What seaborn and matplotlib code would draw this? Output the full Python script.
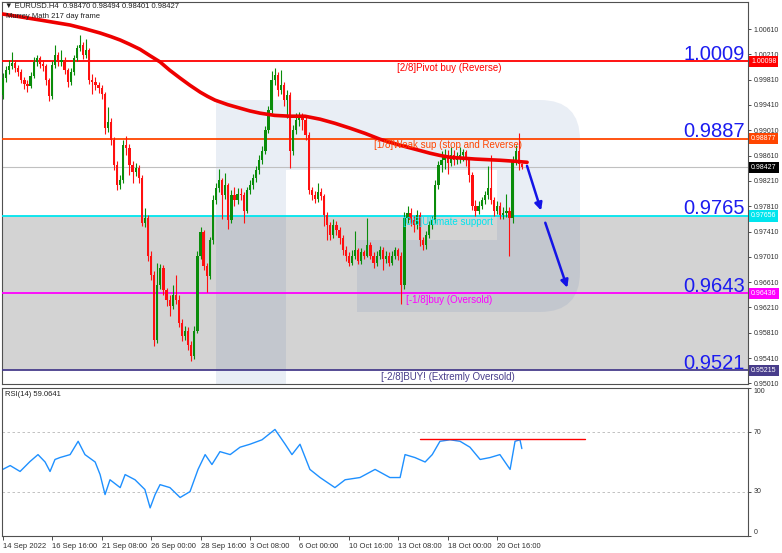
import numpy as np
import matplotlib
matplotlib.use("Agg")
import matplotlib.pyplot as plt
import matplotlib.transforms as mtransforms
from matplotlib.path import Path
from matplotlib.patches import PathPatch
import seaborn as sns

# EURUSD H4 bars from 14 Sep 2022 00:00, open of each bar = previous close
first_open = 0.9956
closes = [0.9983, 0.9996, 1.0002, 1.0007, 0.9999, 0.9993, 0.9980, 0.9974, 0.9971, 0.9987,
          1.0009, 1.0015, 1.0006, 1.0002, 0.9980, 0.9955, 1.0004, 1.0020, 1.0009, 1.0012,
          0.9996, 0.9977, 0.9993, 1.0015, 1.0031, 1.0036, 1.0020, 1.0028, 0.9980, 0.9977,
          0.9972, 0.9968, 0.9958, 0.9904, 0.9914, 0.9885, 0.9846, 0.9814, 0.9822, 0.9877,
          0.9873, 0.9846, 0.9835, 0.9841, 0.9825, 0.9755, 0.9762, 0.9703, 0.9672, 0.9569,
          0.9656, 0.9683, 0.9648, 0.9632, 0.9624, 0.9640, 0.9632, 0.9597, 0.9576, 0.9584,
          0.9561, 0.9545, 0.9584, 0.9703, 0.9740, 0.9687, 0.9671, 0.9727, 0.9790, 0.9809,
          0.9822, 0.9798, 0.9814, 0.9759, 0.9798, 0.9790, 0.9801, 0.9798, 0.9774, 0.9806,
          0.9814, 0.9825, 0.9838, 0.9854, 0.9869, 0.9901, 0.9933, 0.9980, 0.9988, 0.9964,
          0.9972, 0.9949, 0.9957, 0.9869, 0.9901, 0.9917, 0.9920, 0.9917, 0.9893, 0.9806,
          0.9798, 0.9793, 0.9803, 0.9797, 0.9767, 0.9751, 0.9735, 0.9751, 0.9743, 0.9730,
          0.9711, 0.9703, 0.9692, 0.9703, 0.9711, 0.9695, 0.9708, 0.9703, 0.9719, 0.9703,
          0.9692, 0.9703, 0.9711, 0.9698, 0.9703, 0.9692, 0.9703, 0.9711, 0.9703, 0.9656,
          0.9762, 0.9771, 0.9759, 0.9751, 0.9767, 0.9727, 0.9719, 0.9735, 0.9751, 0.9759,
          0.9814, 0.9846, 0.9854, 0.9862, 0.9850, 0.9862, 0.9854, 0.9857, 0.9862, 0.9866,
          0.9854, 0.9830, 0.9782, 0.9774, 0.9782, 0.9790, 0.9798, 0.9809, 0.9790, 0.9774,
          0.9782, 0.9767, 0.9771, 0.9774, 0.9762, 0.9854, 0.9869, 0.9847, 0.98427]
highs = [0.9992, 1.0003, 1.0012, 1.0024, 1.0012, 1.0004, 0.9998, 0.9985, 0.9980, 0.9993,
         1.0016, 1.0020, 1.0019, 1.0012, 1.0006, 0.9984, 1.0010, 1.0035, 1.0025, 1.0028,
         1.0016, 1.0000, 0.9999, 1.0020, 1.0036, 1.0051, 1.0041, 1.0045, 1.0031, 0.9990,
         0.9985, 0.9978, 0.9972, 0.9962, 0.9938, 0.9920, 0.9890, 0.9852, 0.9831, 0.9885,
         0.9892, 0.9880, 0.9852, 0.9850, 0.9846, 0.9830, 0.9778, 0.9767, 0.9710, 0.9678,
         0.9692, 0.9690, 0.9688, 0.9652, 0.9640, 0.9656, 0.9672, 0.9640, 0.9603, 0.9592,
         0.9590, 0.9568, 0.9592, 0.9710, 0.9748, 0.9744, 0.9692, 0.9733, 0.9798, 0.9817,
         0.9840, 0.9826, 0.9833, 0.9818, 0.9806, 0.9812, 0.9810, 0.9809, 0.9803, 0.9812,
         0.9822, 0.9832, 0.9845, 0.9862, 0.9876, 0.9908, 0.9940, 0.9995, 0.9999, 0.9993,
         0.9996, 0.9978, 0.9965, 0.9962, 0.9910, 0.9928, 0.9930, 0.9928, 0.9922, 0.9898,
         0.9812, 0.9805, 0.9818, 0.9810, 0.9801, 0.9772, 0.9756, 0.9760, 0.9757, 0.9748,
         0.9735, 0.9718, 0.9708, 0.9712, 0.9742, 0.9715, 0.9715, 0.9712, 0.9762, 0.9724,
         0.9708, 0.9710, 0.9718, 0.9716, 0.9710, 0.9708, 0.9710, 0.9716, 0.9715, 0.9708,
         0.9772, 0.9781, 0.9778, 0.9765, 0.9775, 0.9772, 0.9733, 0.9742, 0.9758, 0.9766,
         0.9822, 0.9852, 0.9868, 0.9872, 0.9870, 0.9874, 0.9870, 0.9866, 0.9874, 0.9872,
         0.9870, 0.9858, 0.9835, 0.9790, 0.9789, 0.9796, 0.9805, 0.9845, 0.9862, 0.9795,
         0.9789, 0.9788, 0.9779, 0.9800, 0.9780, 0.9860, 0.9878, 0.9897, 0.98494]
lows = [0.9950, 0.9978, 0.9990, 0.9998, 0.9993, 0.9986, 0.9975, 0.9966, 0.9962, 0.9967,
        0.9983, 1.0002, 1.0000, 0.9995, 0.9973, 0.9948, 0.9950, 1.0000, 1.0003, 1.0002,
        0.9990, 0.9969, 0.9972, 0.9988, 1.0010, 1.0026, 1.0014, 1.0015, 0.9974, 0.9958,
        0.9964, 0.9960, 0.9950, 0.9895, 0.9898, 0.9878, 0.9838, 0.9806, 0.9808, 0.9818,
        0.9862, 0.9830, 0.9818, 0.9828, 0.9818, 0.9750, 0.9748, 0.9695, 0.9665, 0.9560,
        0.9565, 0.9650, 0.9640, 0.9624, 0.9608, 0.9618, 0.9626, 0.9590, 0.9568, 0.9570,
        0.9553, 0.9536, 0.9540, 0.9580, 0.9698, 0.9680, 0.9645, 0.9666, 0.9722, 0.9785,
        0.9803, 0.9760, 0.9792, 0.9745, 0.9754, 0.9782, 0.9784, 0.9790, 0.9755, 0.9770,
        0.9800, 0.9808, 0.9820, 0.9832, 0.9848, 0.9864, 0.9896, 0.9928, 0.9972, 0.9955,
        0.9958, 0.9940, 0.9920, 0.9842, 0.9862, 0.9895, 0.9908, 0.9902, 0.9885, 0.9800,
        0.9790, 0.9786, 0.9788, 0.9790, 0.9750, 0.9728, 0.9727, 0.9730, 0.9735, 0.9722,
        0.9704, 0.9695, 0.9686, 0.9688, 0.9698, 0.9690, 0.9690, 0.9697, 0.9700, 0.9698,
        0.9684, 0.9686, 0.9698, 0.9680, 0.9692, 0.9686, 0.9688, 0.9698, 0.9696, 0.9627,
        0.9650, 0.9755, 0.9750, 0.9740, 0.9745, 0.9718, 0.9712, 0.9714, 0.9730, 0.9745,
        0.9754, 0.9808, 0.9835, 0.9840, 0.9832, 0.9845, 0.9846, 0.9848, 0.9850, 0.9852,
        0.9845, 0.9820, 0.9775, 0.9766, 0.9768, 0.9776, 0.9784, 0.9792, 0.9784, 0.9766,
        0.9768, 0.9760, 0.9760, 0.9764, 0.9702, 0.9755, 0.9846, 0.9838, 0.98401]

tick_idx = [0, 16, 32, 48, 64, 80, 96, 112, 128, 144, 160]
tick_labels = ["14 Sep 2022", "16 Sep 16:00", "21 Sep 08:00", "26 Sep 00:00", "28 Sep 16:00",
               "3 Oct 08:00", "6 Oct 00:00", "10 Oct 16:00", "13 Oct 08:00", "18 Oct 00:00",
               "20 Oct 16:00"]

# thick red moving average
ma_idx = [0, 6, 12.1, 17, 21.8, 26.5, 31.5, 35, 38, 41, 44.4, 47.6, 50.9, 54, 57.4, 60.6,
          63.9, 66.3, 68.7, 72.8, 76.8, 80, 83.3, 88, 93, 97.8, 102.7, 107.5, 112.4, 117.3,
          122.1, 125.4, 128.6, 133.5, 138.3, 141.5, 144.8, 152.9, 161, 165.8, 169.7]
ma_vals = [1.00847, 1.00800, 1.00752, 1.00712, 1.00673, 1.00615, 1.00547, 1.00490, 1.00436,
           1.00370, 1.00290, 1.00190, 1.00090, 0.99960, 0.99834, 0.99720, 0.99612, 0.99545,
           0.99486, 0.99415, 0.99359, 0.99315, 0.99280, 0.99245, 0.99232, 0.99232, 0.99185,
           0.99120, 0.99043, 0.98960, 0.98868, 0.98820, 0.98773, 0.98710, 0.98647, 0.98612,
           0.98583, 0.98555, 0.98536, 0.98520, 0.98504]

rsi_idx = [0, 2.4, 5.6, 8.8, 11.4, 13.7, 15.3, 16.9, 18.5, 21.8, 24.4, 26.6, 29.9, 31.5, 33.1,
           34.7, 38, 39.6, 42.8, 46, 47.7, 49.3, 50.9, 54.1, 57.4, 60.6, 63.2, 65.5, 67.7, 70.3,
           73.6, 76.8, 80, 83.9, 88.1, 91.4, 93.6, 96.2, 99.4, 102.7, 107.5, 110.8, 115.6, 120.5,
           125.3, 128.6, 130.2, 133.4, 136.7, 139, 141.5, 144.8, 148, 151.2, 154.5, 157.7, 160.9,
           164.2, 165.8, 167.4, 168]
rsi_vals = [45, 47.6, 43.6, 50.3, 55, 50, 43.6, 51.7, 53, 55, 64, 55, 50, 41.5, 28,
            38, 32.7, 41.5, 38, 31.4, 19, 28, 34.7, 32.7, 26, 30, 45, 55, 48.3, 57,
            55, 60, 62, 65, 72, 62, 55, 62, 45, 39.5, 32.7, 38, 39.5, 45,
            39.5, 39.5, 55, 53, 50, 55, 64, 65, 64, 60, 51.7, 53, 55,
            45, 64, 65, 59.06]

levels = [1.00098, 0.98877, 0.97656, 0.96436, 0.95215]
level_names = ["[2/8]Pivot buy (Reverse)", "[1/8]Weak sup (stop and Reverse)",
               "[0/8]Ultimate support", "[-1/8]buy (Oversold)", "[-2/8]BUY! (Extremly Oversold)"]
level_short = ["1.0009", "0.9887", "0.9765", "0.9643", "0.9521"]
level_colors = ["#ff0000", "#ff4500", "#00e5ee", "#ff00ff", "#483d8b"]
level_text_x = [127.6, 120.2, 129.5, 130.5, 122.4]
current_price = 0.98427
price_ticks = [1.00610, 1.00210, 0.99810, 0.99410, 0.99010, 0.98610, 0.98210, 0.97810,
               0.97410, 0.97010, 0.96610, 0.96210, 0.95810, 0.95410, 0.95010]

arrow1_x, arrow1_y = [169.4, 174.5], [0.9849, 0.9770]
arrow2_x, arrow2_y = [175.3, 183.0], [0.9759, 0.9648]
rsi_mark_x, rsi_mark_y = [135, 188.6], [65.3, 65.3]

sns.set_style("white")
plt.rcParams['font.family'] = ['Liberation Sans', 'DejaVu Sans']

W, H = 782, 553
fig = plt.figure(figsize=(W / 100, H / 100), dpi=100)
ax = fig.add_axes([2 / W, 1 - 384 / H, 746 / W, 382 / H])
ax2 = fig.add_axes([2 / W, 1 - 536 / H, 746 / W, 148 / H])
xlim = (-0.25, 241.2)

# zones and watermark
ax.axhspan(levels[4], levels[2], color="#d3d3d3", lw=0, zorder=0)

def px(x, y):
    return ((x - 2) / 746, (384 - y) / 382)

verts = [px(216, 390), px(216, 100), px(540, 100), px(580, 100), px(580, 140),
         px(580, 272), px(580, 312), px(540, 312), px(357, 312), px(357, 240),
         px(497, 240), px(497, 170), px(286, 170), px(286, 390), px(216, 390)]
codes = [Path.MOVETO, Path.LINETO, Path.LINETO, Path.CURVE3, Path.CURVE3,
         Path.LINETO, Path.CURVE3, Path.CURVE3, Path.LINETO, Path.LINETO,
         Path.LINETO, Path.LINETO, Path.LINETO, Path.LINETO, Path.CLOSEPOLY]
ax.add_patch(PathPatch(Path(verts, codes), transform=ax.transAxes, fc="#5a7db4",
                       alpha=0.13, ec="none", zorder=1))

for lv, c in zip(levels, level_colors):
    ax.axhline(lv, color=c, lw=1.3, zorder=3)
ax.axhline(current_price, color="#c0c0c0", lw=0.8, zorder=2)

# candles
closes = np.array(closes)
opens = np.r_[first_open, closes[:-1]]
idx = np.arange(len(closes))
cols = np.where(closes >= opens, "#0a8c0a", "#ff1010")
ax.vlines(idx, lows, highs, colors=cols, lw=0.8, zorder=4)
body = np.maximum(np.abs(closes - opens), 0.00006)
ax.bar(idx, body, bottom=np.minimum(opens, closes), width=0.72, color=cols, lw=0, zorder=5)

sns.lineplot(x=ma_idx, y=ma_vals, ax=ax, color="#ee0000", lw=2.6, zorder=6)

for xs, ys in [(arrow1_x, arrow1_y), (arrow2_x, arrow2_y)]:
    ax.annotate("", xy=(xs[1], ys[1]), xytext=(xs[0], ys[0]),
                arrowprops=dict(arrowstyle="-|>", color="#1414e6", lw=1.8, mutation_scale=11),
                zorder=7)

trans = mtransforms.blended_transform_factory(ax.transAxes, ax.transData)
for lv, name, short, c, tx in zip(levels, level_names, level_short, level_colors, level_text_x):
    ax.annotate(name, xy=(tx, lv), xytext=(0, -1.5), textcoords="offset pixels",
                color=c, fontsize=7, va="top", ha="left", zorder=8)
    ax.annotate(short, xy=(1, lv), xycoords=trans, xytext=(-3, 1.5), textcoords="offset pixels",
                color="#1c1cf0", fontsize=14.5, va="baseline", ha="right", zorder=8)
    ax.text(1.004, lv, f"{lv:.5f}", transform=trans, fontsize=5, color="white", va="center",
            ha="left", bbox=dict(boxstyle="square,pad=0.3", fc=c, ec="none"), clip_on=False)
ax.text(1.004, current_price, f"{current_price:.5f}", transform=trans, fontsize=5, color="white",
        va="center", ha="left", bbox=dict(boxstyle="square,pad=0.3", fc="black", ec="none"),
        clip_on=False)

ax.text(0.004, 0.9895, "\u25bc EURUSD.H4  0.98470 0.98494 0.98401 0.98427", transform=ax.transAxes,
        fontsize=5.5, va="center", ha="left", color="#202020", zorder=9)
ax.text(0.006, 0.962, "Murrey Math 217 day frame", transform=ax.transAxes,
        fontsize=5.5, va="center", ha="left", color="#202020", zorder=9)

ax.set_xlim(xlim)
ax.set_ylim(0.9500, 1.01037)
ax.set_xticks([])
ax.yaxis.tick_right()
ax.set_yticks(price_ticks)
ax.set_yticklabels([f"{t:.5f}" for t in price_ticks])
ax.tick_params(axis="y", direction="out", length=2, width=0.6, labelsize=5, pad=2,
               colors="#303030", right=True)
ax.set_xlabel("")
ax.set_ylabel("")

# RSI panel
ax2.axhline(70, color="#b8b8b8", lw=0.6, ls=(0, (3, 3)))
ax2.axhline(30, color="#b8b8b8", lw=0.6, ls=(0, (3, 3)))
sns.lineplot(x=rsi_idx, y=rsi_vals, ax=ax2, color="#1e90ff", lw=1.0)
ax2.plot(rsi_mark_x, rsi_mark_y, color="#ff0000", lw=1.0)
ax2.text(0.004, 0.955, "RSI(14) 59.0641", transform=ax2.transAxes, fontsize=5.5,
         va="center", ha="left", color="#202020")
ax2.set_xlim(xlim)
ax2.set_ylim(0, 100)
ax2.yaxis.tick_right()
ax2.set_yticks([100, 70, 30, 0])
ax2.set_yticklabels(["100", "70", "30", "0"])
for lab, va in zip(ax2.get_yticklabels(), ["top", "center", "center", "bottom"]):
    lab.set_verticalalignment(va)
ax2.tick_params(axis="y", direction="out", length=2, width=0.6, labelsize=5, pad=2,
                colors="#303030", right=True)
ax2.set_xticks(tick_idx)
ax2.set_xticklabels(tick_labels, ha="left")
ax2.tick_params(axis="x", direction="out", length=3, width=0.6, labelsize=5.5, pad=2,
                colors="#303030", bottom=True)
ax2.set_xlabel("")
ax2.set_ylabel("")

for a in (ax, ax2):
    for s in a.spines.values():
        s.set_color("#505050")
        s.set_linewidth(0.8)

fig.savefig("out.png", dpi=100)
